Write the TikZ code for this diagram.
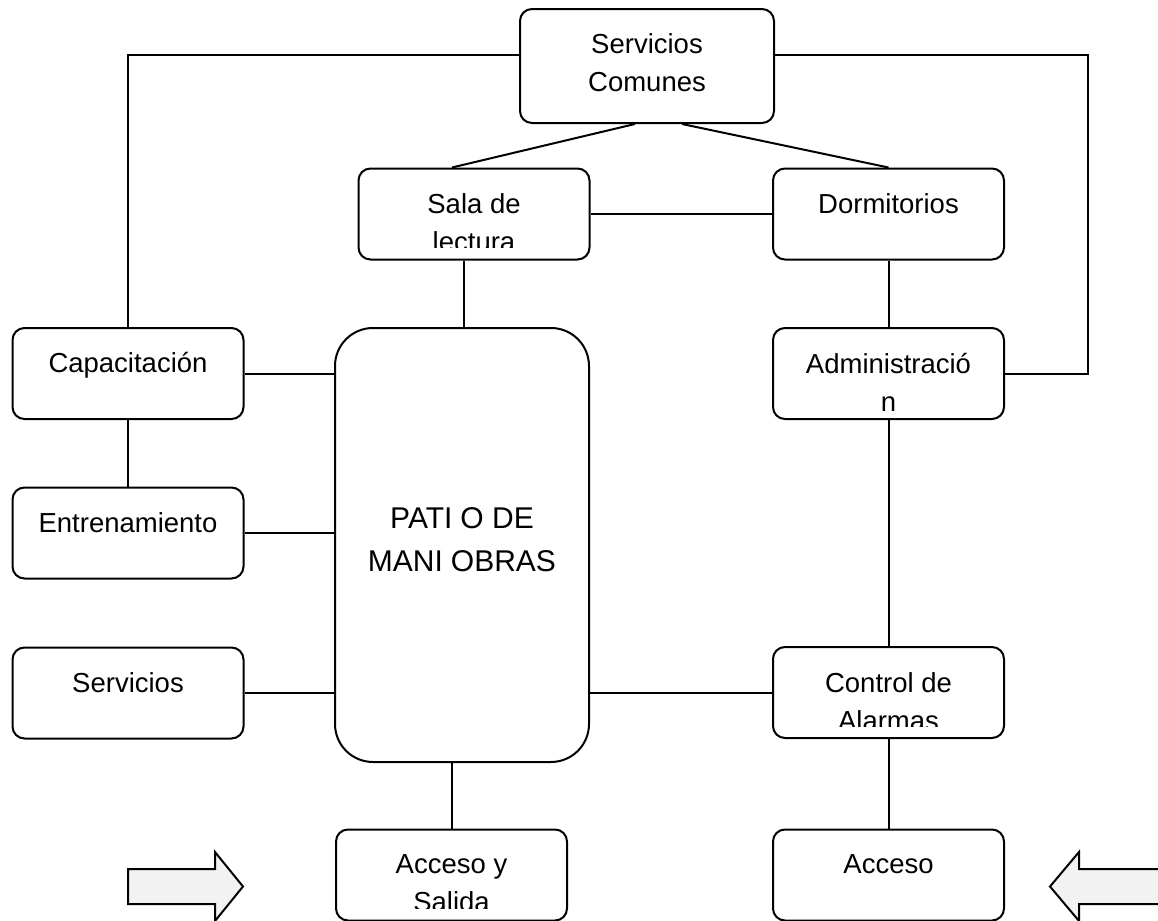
\documentclass[tikz,border=0pt]{standalone}
\usepackage{fontspec}
\setmainfont{Liberation Sans}
\definecolor{arrowgray}{HTML}{F2F2F2}
\tikzset{
  box/.style={draw, line width=1pt, rounded corners=6pt, inner sep=0pt,
              minimum width=115.5pt, minimum height=45.5pt},
  lbl/.style={inner sep=0pt, anchor=base, font=\fontsize{13.75}{19}\selectfont},
  biglbl/.style={inner sep=0pt, anchor=base, font=\fontsize{15}{21.5}\selectfont},
  link/.style={line width=1pt},
  bigarrow/.style={draw, line width=1pt, fill=arrowgray, line join=miter}
}
\begin{document}
\begin{tikzpicture}[x=0.5pt,y=-0.5pt]
\path[use as bounding box] (0,0) rectangle (1158,921);
\clip (0,0) rectangle (1158,921);

% boxes
\node[box, minimum width=127pt, minimum height=57pt] (sc) at (647,66) {};
\node[box] (sala) at (474,214) {};
\node[box] (dorm) at (888.5,214) {};
\node[box] (cap) at (128,373.5) {};
\node[box] (adm) at (888.5,373.5) {};
\node[box, rounded corners=19pt, minimum width=127pt, minimum height=217pt] (patio) at (462,545) {};
\node[box] (ent) at (128,533) {};
\node[box] (serv) at (128,693) {};
\node[box] (ctrl) at (888.5,692.5) {};
\node[box] (accs) at (451.5,875) {};
\node[box] (acc) at (888.5,875) {};

% texts
\node[lbl] (t-sc) at ([yshift=-23pt]sc.north) {\begin{tabular}[t]{@{}c@{}}Servicios\\Comunes\end{tabular}};
\begin{scope}
  \clip ([yshift=6.5pt]sala.south west) rectangle (sala.north east);
  \node[lbl] (t-sala) at ([yshift=-23pt]sala.north) {\begin{tabular}[t]{@{}c@{}}Sala de\\lectura\end{tabular}};
\end{scope}
\node[lbl] (t-dorm) at ([yshift=-23pt]dorm.north) {Dormitorios};
\node[lbl] (t-cap) at ([yshift=-22.5pt]cap.north) {Capacitación};
\node[lbl] (t-adm) at ([yshift=-23pt]adm.north) {\begin{tabular}[t]{@{}c@{}}Administració\\n\end{tabular}};
\node[lbl] (t-ent) at ([yshift=-23pt]ent.north) {Entrenamiento};
\node[lbl] (t-serv) at ([yshift=-23pt]serv.north) {Servicios};
\begin{scope}
  \clip ([yshift=6.5pt]ctrl.south west) rectangle (ctrl.north east);
  \node[lbl] (t-ctrl) at ([yshift=-23pt]ctrl.north) {\begin{tabular}[t]{@{}c@{}}Control de\\Alarmas\end{tabular}};
\end{scope}
\begin{scope}
  \clip ([yshift=6.5pt]accs.south west) rectangle (accs.north east);
  \node[lbl] (t-accs) at ([yshift=-22.5pt]accs.north) {\begin{tabular}[t]{@{}c@{}}Acceso y\\Salida\end{tabular}};
\end{scope}
\node[lbl] (t-acc) at ([yshift=-22.5pt]acc.north) {Acceso};
\node[biglbl] (t-patio) at ([yshift=-100.5pt]patio.north) {\begin{tabular}[t]{@{}c@{}}PATI\kern4pt O DE\\MANI\kern4pt OBRAS\end{tabular}};

% connectors
\coordinate (rc) at (1088,55);
\draw[link] ([yshift=5.5pt]sc.west) -| (cap.north);
\draw[link] ([yshift=5.5pt]sc.east) -- (rc) |- (adm.east);
\draw[link] ([xshift=-6pt]sc.south) -- ([xshift=-11pt]sala.north);
\draw[link] ([xshift=17.5pt]sc.south) -- (dorm.north);
\draw[link] (sala.east) -- (dorm.west);
\draw[link] ([xshift=-5pt]sala.south) -- ([xshift=-5pt]sala.south |- patio.north);
\draw[link] (dorm.south) -- (adm.north);
\draw[link] (cap.east) -- (cap.east -| patio.west);
\draw[link] (cap.south) -- (ent.north);
\draw[link] (ent.east) -- (ent.east -| patio.west);
\draw[link] (serv.east) -- (serv.east -| patio.west);
\draw[link] (ctrl.west -| patio.east) -- (ctrl.west);
\draw[link] (adm.south) -- (ctrl.north);
\draw[link] (accs.north |- patio.south) -- (accs.north);
\draw[link] (ctrl.south) -- (acc.north);

% block arrows
\draw[bigarrow] (128,869) -- (215,869) -- (215,852) -- (243,886.5) -- (215,921) -- (215,904) -- (128,904) -- cycle;
\draw[bigarrow] (1185,869) -- (1079,869) -- (1079,852) -- (1050,886.5) -- (1079,921) -- (1079,904) -- (1185,904) -- cycle;
\end{tikzpicture}
\end{document}
